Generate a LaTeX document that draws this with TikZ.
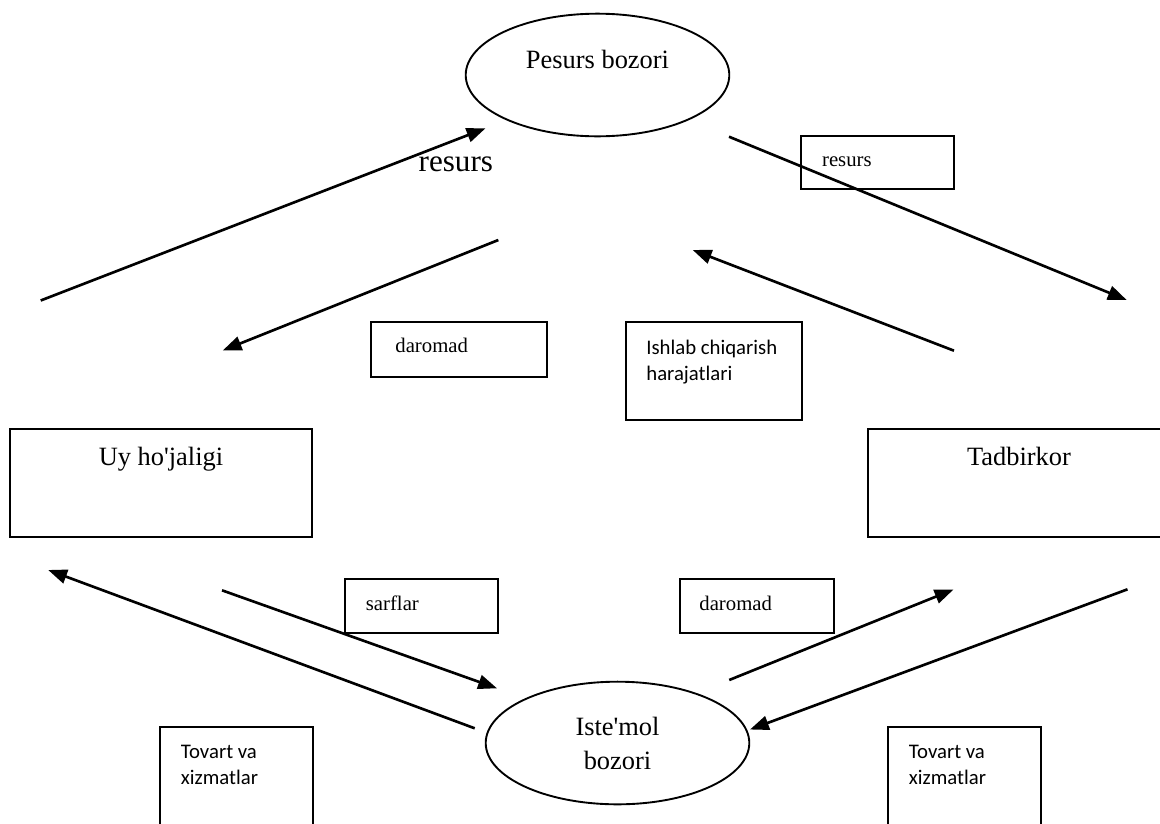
\documentclass[tikz,border=0pt]{standalone}
\usepackage{fontspec}
\setmainfont{Liberation Serif}
\newfontfamily\calibri{Carlito}
\usetikzlibrary{arrows.meta,shapes.geometric,fit}

\begin{document}
\begin{tikzpicture}[x=0.53pt,y=-0.53pt,
        box/.style={draw, line width=1pt, inner sep=0pt},
        market/.style={draw, ellipse, line width=1pt, inner sep=0pt, minimum width=139.7pt, minimum height=65pt},
        flow/.style={line width=1.4pt, -{Triangle[length=10pt,width=7.5pt]}},
        bigtxt/.style={inner sep=0pt, font=\fontsize{14}{18}\selectfont},
        smalltxt/.style={inner sep=0pt, font=\fontsize{11}{13.3}\selectfont},
        sanstxt/.style={inner sep=0pt, align=left, font=\calibri\fontsize{11}{13.3}\selectfont}]
        \useasboundingbox (0,0) rectangle (1160,823);
        \clip (0,0) rectangle (1160,823);

        % 两个市场
        \node[market] (resmkt) at (597.5,75) {};
        \node[bigtxt, anchor=base] (resname) at (597.5,68.3) {Pesurs bozori};
        \node[market, bigtxt, align=center] (conmkt) at (617.5,743) {Iste\textquotesingle mol\\bozori};

        % 家庭与企业
        \node[box, fit={(10,429.3) (312,537.3)}] (house) {};
        \node[bigtxt, anchor=base] (housetxt) at (161,465) {Uy ho\textquotesingle jaligi};
        \node[box, fit={(868.3,429.3) (1170,537.3)}] (firm) {};
        \node[bigtxt, anchor=base] (firmtxt) at (1019,465) {Tadbirkor};

        % 标签框（多行文字以最后一行为基线）
        \node[box, fit={(800.7,136) (954.3,189.3)}] (resbox) {};
        \node[smalltxt, anchor=base west] (restxt) at (821.7,166.7) {resurs};
        \node[box, fit={(370.7,321.7) (547.3,377.3)}] (incbox) {};
        \node[smalltxt, anchor=base west] (inctxt) at (395,352.3) {daromad};
        \node[box, fit={(625.7,321.7) (801.7,420)}] (costbox) {};
        \node[sanstxt, anchor=base west] (costtxt) at (646,380) {Ishlab chiqarish\\harajatlari};
        \node[box, fit={(344.8,579.3) (498.3,633.3)}] (spendbox) {};
        \node[smalltxt, anchor=base west] (spendtxt) at (365.5,610) {sarflar};
        \node[box, fit={(679.9,579.3) (833.8,633.3)}] (revbox) {};
        \node[smalltxt, anchor=base west] (revtxt) at (699,610) {daromad};
        \node[box, fit={(159.8,727.3) (312.6,830)}] (goodsL) {};
        \node[sanstxt, anchor=base west] (goodsLtxt) at (180.5,784) {Tovart va\\xizmatlar};
        \node[box, fit={(887.8,727.3) (1040.6,830)}] (goodsR) {};
        \node[sanstxt, anchor=base west] (goodsRtxt) at (908.5,784) {Tovart va\\xizmatlar};
        \node[inner sep=0pt, anchor=base west, font=\fontsize{16.5}{19}\selectfont] (bigres) at (418.3,171) {resurs};

        % 箭头端点
        \coordinate (hhres1) at (40.7,300.5);   \coordinate (hhres2) at (485.5,128.3);
        \coordinate (inc1) at (498.3,240);      \coordinate (inc2) at (222.7,350.5);
        \coordinate (res1) at (729,136.7);      \coordinate (res2) at (1126.7,300);
        \coordinate (cost1) at (954,350.7);     \coordinate (cost2) at (692.7,250);
        \coordinate (goods1) at (474.7,728.3);  \coordinate (goods2) at (48.2,570);
        \coordinate (spend1) at (222,590.3);    \coordinate (spend2) at (497,688.3);
        \coordinate (rev1) at (729.2,680);      \coordinate (rev2) at (953.5,589.5);
        \coordinate (supply1) at (1127.5,589.3); \coordinate (supply2) at (750,729.5);

        % 流向
        \draw[flow] (hhres1) -- (hhres2);
        \draw[flow] (inc1) -- (inc2);
        \draw[flow] (res1) -- (res2);
        \draw[flow] (cost1) -- (cost2);
        \draw[flow] (goods1) -- (goods2);
        \draw[flow] (spend1) -- (spend2);
        \draw[flow] (rev1) -- (rev2);
        \draw[flow] (supply1) -- (supply2);
\end{tikzpicture}
\end{document}
